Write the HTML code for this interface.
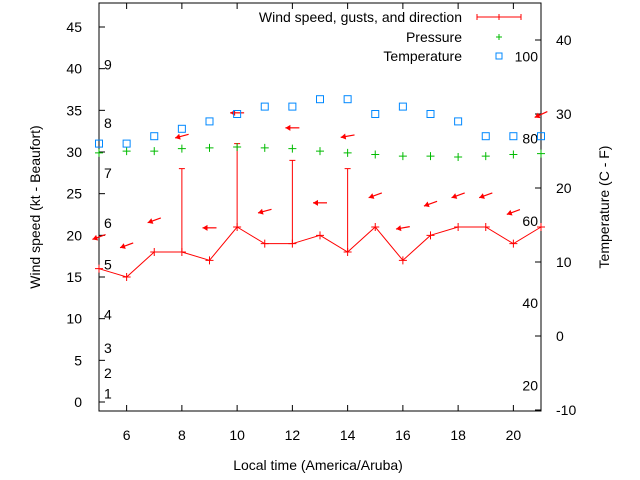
<!DOCTYPE html>
<html><head><meta charset="utf-8"><style>
body{margin:0;background:#fff}
svg{display:block;font-family:"Liberation Sans",sans-serif;font-size:14px}
</style></head><body>
<svg id="chart" width="640" height="480" xmlns="http://www.w3.org/2000/svg">
<g id="axes"></g><g id="marks"></g>
<g font-size="14">
 <text x="462" y="22" text-anchor="end">Wind speed, gusts, and direction</text>
 <g stroke="#f00" stroke-width="1"><line x1="477" y1="17" x2="521" y2="17"/><line x1="477" y1="14" x2="477" y2="20"/><line x1="521" y1="14" x2="521" y2="20"/><line x1="499" y1="14" x2="499" y2="20"/></g>
 <text x="462" y="42" text-anchor="end">Pressure</text>
 <g stroke="#0b0"><line x1="496" y1="37" x2="502" y2="37"/><line x1="499" y1="34" x2="499" y2="40"/></g>
 <text x="462" y="61" text-anchor="end">Temperature</text>
 <rect x="496" y="53" width="6" height="6" fill="none" stroke="#08f"/>
</g>
<text transform="translate(40,207) rotate(-90)" text-anchor="middle" font-size="14">Wind speed (kt - Beaufort)</text>
<text transform="translate(609,207) rotate(-90)" text-anchor="middle" font-size="14">Temperature (C - F)</text>
<text x="318" y="470" text-anchor="middle" font-size="14">Local time (America/Aruba)</text>
</svg>
<script>
const hours=[5,6,7,8,9,10,11,12,13,14,15,16,17,18,19,20,21];
const windSpeed=[16,15,18,18,17,21,19,19,20,18,21,17,20,21,21,19,21];
const gustHours=[8,10,12,14];
const gustSpeed=[28,31,29,28];
const temperature=[26,26,27,28,29,30,31,31,32,32,30,31,30,29,27,27,27];
const pressure=[29.9,30.1,30.1,30.4,30.5,30.6,30.5,30.4,30.1,29.9,29.7,29.5,29.5,29.4,29.5,29.7,29.8];
const arrowLevel=[19.8,18.8,21.8,31.9,20.9,34.7,22.9,32.9,23.9,31.9,24.8,20.9,23.8,24.8,24.8,22.8,34.5];
const arrowTilt=[20,20,20,15,0,0,15,0,0,10,20,10,20,20,20,20,25];
const xTicks=[6,8,10,12,14,16,18,20];
const yTicks=[0,5,10,15,20,25,30,35,40,45];
const y2Ticks=[-10,0,10,20,30,40];
const beaufortLabels=[1,2,3,4,5,6,7,8,9];
const beaufortLevels=[1,3.5,6.5,10.5,16.5,21.5,27.5,33.5,40.5];
const fahrenheitLabels=[20,40,60,80,100];

const L=99,R=541,T=3,B=411;
const x=h=>L+(h-5)*(R-L)/16;
const y=v=>402-v*(375/45);
const y2=c=>336-c*7.4;
const NS="http://www.w3.org/2000/svg";
function mk(tag,attrs,parent){const e=document.createElementNS(NS,tag);for(const k in attrs)e.setAttribute(k,attrs[k]);parent.appendChild(e);return e;}
const ax=document.getElementById('axes'),mg=document.getElementById('marks');
let f=mk('rect',{x:L,y:T,width:R-L,height:B-T,fill:'none',stroke:'#000'},ax);


xTicks.forEach(t=>{
 let l=mk('line',{x1:x(t),x2:x(t),y1:B,y2:B-6,stroke:'#000'},ax);
 
 
 let l2=mk('line',{x1:x(t),x2:x(t),y1:T,y2:T+6,stroke:'#000'},ax);
 
 
 let tx=mk('text',{x:x(t),y:B+29,'text-anchor':'middle'},ax);tx.textContent=t;
 
 
});
yTicks.forEach(t=>{
 let l=mk('line',{x1:L,x2:L+6,y1:y(t),y2:y(t),stroke:'#000'},ax);
 
 
 let tx=mk('text',{x:L-17,y:y(t)+5,'text-anchor':'end'},ax);tx.textContent=t;
 
 
});
y2Ticks.forEach(t=>{
 let l=mk('line',{x1:R-6,x2:R,y1:y2(t),y2:y2(t),stroke:'#000'},ax);
 
 
 let tx=mk('text',{x:R+15,y:y2(t)+5},ax);tx.textContent=t;
 
 
});
beaufortLabels.forEach((b,i)=>{
 let tx=mk('text',{x:104,y:y(beaufortLevels[i])+5},ax);tx.textContent=b;
 
 
});
fahrenheitLabels.forEach(fv=>{
 let tx=mk('text',{x:538,y:y2((fv-32)*5/9)+5,'text-anchor':'end'},ax);tx.textContent=fv;
 
 
});
let p=mk('polyline',{points:hours.map((h,i)=>x(h)+','+y(windSpeed[i])).join(' '),fill:'none',stroke:'#f00'},mg);


hours.forEach((h,i)=>{
 let g=mk('path',{d:`M${x(h)-4},${y(windSpeed[i])}h8M${x(h)},${y(windSpeed[i])-4}v8`,stroke:'#f00'},mg);
 
 
});
gustHours.forEach((h,i)=>{
 const ws=windSpeed[hours.indexOf(h)];
 let g=mk('path',{d:`M${x(h)},${y(ws)}V${y(gustSpeed[i])}M${x(h)-3},${y(gustSpeed[i])}h6`,stroke:'#f00'},mg);
 
 
});
hours.forEach((h,i)=>{
 const cx=x(h),cy=y(arrowLevel[i]),a=arrowTilt[i]*Math.PI/180;
 const dx=Math.cos(a)*7,dy=Math.sin(a)*7;
 const hx=cx-dx,hy=cy+dy;
 let g=mk('g',{},mg);
 
 
 mk('line',{x1:cx+dx,y1:cy-dy,x2:hx,y2:hy,stroke:'#f00','stroke-width':1.2},g);
 const ux=-Math.cos(a),uy=Math.sin(a);
 const bx=hx-ux*5,by=hy-uy*5;
 mk('polygon',{points:`${hx},${hy} ${bx-uy*3},${by+ux*3} ${bx+uy*3},${by-ux*3}`,fill:'#f00'},g);
});
hours.forEach((h,i)=>{
 let g=mk('path',{d:`M${x(h)-4},${y(pressure[i])}h8M${x(h)},${y(pressure[i])-4}v8`,stroke:'#0b0'},mg);
 
 
});
hours.forEach((h,i)=>{
 let r=mk('rect',{x:x(h)-3.5,y:y2(temperature[i])-3.5,width:7,height:7,fill:'none',stroke:'#08f'},mg);
 
 
});
</script>
</body></html>
